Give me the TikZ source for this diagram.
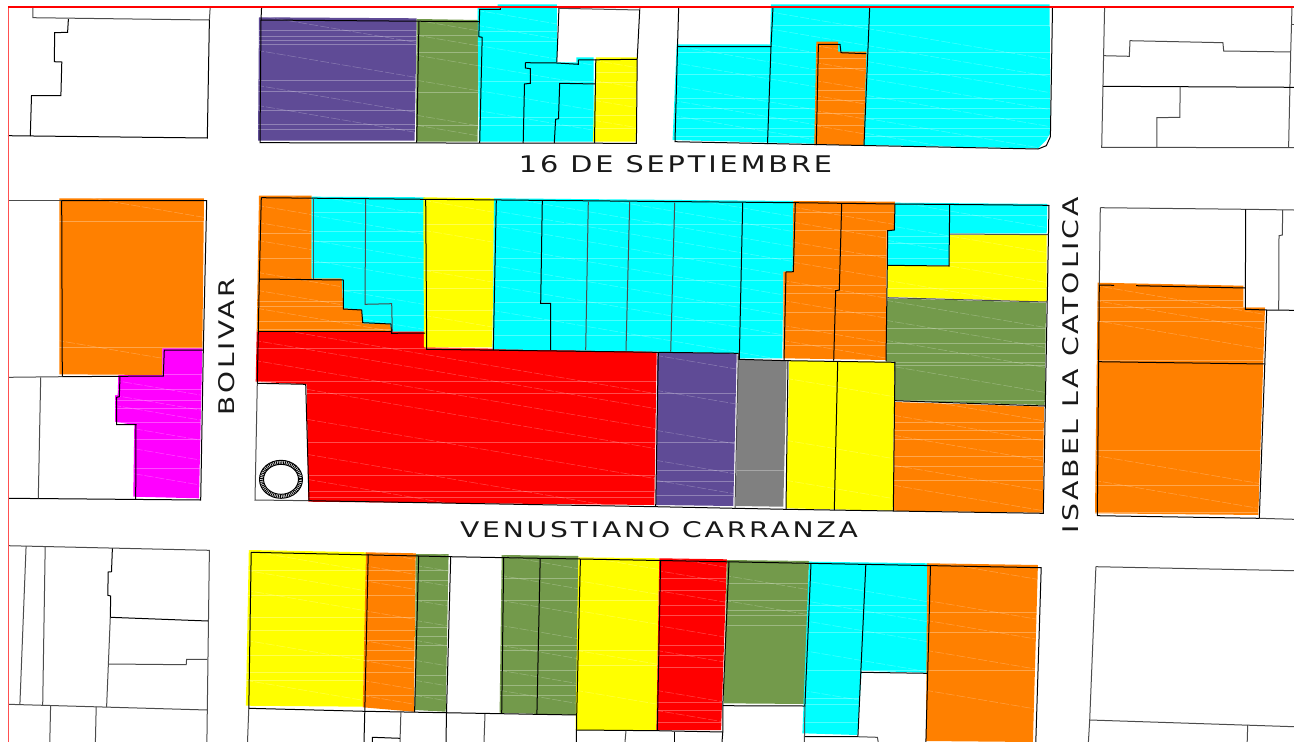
\documentclass[tikz,border=0pt]{standalone}
\usepackage{graphicx}
\usepackage{fontspec}
\newfontfamily\labfont[LetterSpace=10]{DejaVu Sans}
\definecolor{lotorange}{HTML}{FF8000}
\definecolor{lotcyan}{HTML}{00FFFF}
\definecolor{lotyellow}{HTML}{FFFF00}
\definecolor{lotred}{HTML}{FF0000}
\definecolor{lotmag}{HTML}{FF00FF}
\definecolor{lotpurple}{HTML}{5F4B96}
\definecolor{lotgreen}{HTML}{739A4B}
\definecolor{lotgray}{HTML}{808080}
\definecolor{framesoft}{HTML}{FF5050}
\definecolor{framered}{RGB}{255,0,0}
\tikzset{
  streak/.style={white,opacity=.3,line width=.7pt},
  slantstreak/.style={white,opacity=.28,line width=.5pt,dash pattern=on 9pt off 2pt},
  ln/.style={black,line width=1pt,line join=miter},
  lg/.style={black!70,line width=1pt},
  streetlabel/.style={inner sep=0pt,black!90}
}
% colour, outline, x from, x to, flat streak ys, slanted streak ys
\newcommand\lotfill[6]{%
  \begin{scope}
    \fill[#1] #2 -- cycle;
    \clip #2 -- cycle;
    \foreach \yy in {#5} {\draw[streak] (#3,\yy) -- (#4,\yy);}
    \foreach \yy in {#6} {\draw[slantstreak] (#3,\yy) -- (#4,{\yy+0.17*(#4-#3)});}
  \end{scope}}
\begin{document}
\begin{tikzpicture}[x=1pt,y=-1pt]
\useasboundingbox (0,0) rectangle (1294,742);
\fill[white] (0,0) rectangle (1294,742);
\begin{scope}
\clip (0,0) rectangle (1294,742);
% ---- top row
\lotfill{lotpurple}{(259,17.3)--(416.7,18.3)--(414.6,140.7)--(258,140.7)}{255}{420}{30,36,40,44,80,91,110,124,129}{15,50,85,105}
\lotfill{lotgreen}{(416.7,19)--(479,20)--(477.6,141.7)--(416,141.7)}{415}{480}{35,52,92,125}{20,35,55,80,115,125}
\lotfill{lotcyan}{(477.6,7.3)--(497.5,6.7)--(497.5,4.3)--(556.8,4.3)--(556.8,62.3)--(576.3,62.3)--(576.3,57.3)--(593.7,57.3)--(593.7,141.7)--(479,141.7)}{475}{597}{31,41,81,117,125}{10,25,45,65,90,110}
\lotfill{lotyellow}{(595.8,57.3)--(637.2,57.3)--(635.6,141.7)--(592.9,141.7)}{592}{640}{72,82,98,115,128}{60,80,100,120}
\lotfill{lotcyan}{(676.7,44.3)--(770,44.3)--(771,4.3)--(1049.6,4.3)--(1050.4,133)--(1046.3,140)--(1038,148.3)--(863.6,145)--(672.6,140)}{670}{1052}{25,52,74,98,108,118,128,136}{-5,12,28,45,62,85,100,115}
\lotfill{lotorange}{(816.3,41.7)--(838,41.7)--(838,51.7)--(866.4,51.7)--(863.6,145.7)--(814.3,144)}{812}{868}{58,68,90,100,113,125}{45,62,80,95,110,125}
% ---- middle left
\lotfill{lotorange}{(59.3,198.3)--(204,198.3)--(202.3,348.3)--(162.3,348.3)--(162.3,375)--(59.3,374.3)}{55}{206}{221,347}{192,340}
\lotfill{lotmag}{(118.3,375)--(162.3,375)--(162.3,348.3)--(202.3,348.3)--(199,498.3)--(133.3,496.7)--(134.3,425)--(115,421.7)--(115,395)--(117.7,395)}{112}{204}{374,389,400,408,422,439,468}{380,395,405,425,445,470}
% ---- central block
\lotfill{lotorange}{(259,195.7)--(311.7,195.7)--(311.7,278.3)--(341.7,278.3)--(343.3,308.3)--(361.7,309.3)--(362.7,323.3)--(390,324)--(391.7,331.7)--(256.7,331.7)}{255}{393}{233,258,301,306,321,329}{190,205,222,240,272,290,308}
\lotfill{lotcyan}{(311.7,196.7)--(425,197.3)--(425,331.7)--(391.7,331.7)--(390,324)--(362.7,323.3)--(361.7,309.3)--(343.3,308.3)--(341.7,278.3)--(311.7,278.3)}{310}{427}{212,231,241,262,290,315}{195,215,240,260,285,310}
\lotfill{lotred}{(256.7,331.7)--(425,331.7)--(425,347.3)--(656.7,351.7)--(654.3,505)--(308.3,501.7)--(306.7,384.3)--(255.7,381.7)}{252}{660}{348,381,393,442,475,491,497}{325,340,360,380,410,445,470}
\lotfill{lotyellow}{(423.3,197.3)--(494,198.3)--(492.3,347.3)--(424,347.3)}{422}{496}{224,270,288,310,330}{200,230,270,315}
\lotfill{lotcyan}{(494,198.3)--(793.3,201)--(792.7,271.7)--(783.3,271.7)--(782.3,358.3)--(738.3,358.3)--(738.3,353.3)--(656.7,351.7)--(492.7,349.3)}{490}{795}{224,258,280,302,320,335}{150,165,180,195,210,225,245,265,285,310}
\lotfill{lotorange}{(793.3,201)--(895,201.7)--(894.3,230)--(886.7,230.7)--(886,360)--(783.3,358.3)--(783.3,271.7)--(792.7,271.7)}{780}{897}{212,230,255,285,293,312,330,345}{205,220,240,260,280,300,325,340}
\lotfill{lotpurple}{(657.3,352.7)--(736.7,353.3)--(733.3,506)--(656,505)}{654}{739}{393,442,470,481,495}{355,390,430,460,480}
\lotfill{lotgray}{(738.3,360)--(786.7,360)--(783.3,506.7)--(735.7,506)}{734}{788}{470}{340}
\lotfill{lotyellow}{(789.3,360.7)--(894.3,362)--(892.7,510.7)--(786,508.3)}{784}{896}{600}{378,440,480}
\lotfill{lotcyan}{(895,202.7)--(1047.3,204)--(1046.7,233.3)--(949.3,233.3)--(949.3,265)--(887.3,265)--(887.3,230.7)--(895,230)}{885}{1049}{215,236,243,258}{200,225,240}
\lotfill{lotyellow}{(950,235)--(1046.7,235)--(1046.7,301.7)--(887.3,296.7)--(887.3,266)--(949,266)}{885}{1049}{262,288}{225,255,280}
\lotfill{lotgreen}{(887.3,298.3)--(1046,302.7)--(1044.7,405)--(895,400.7)--(894,361.7)--(886,361.7)}{884}{1048}{328,343,353,362,365,400}{300,320,340,365}
\lotfill{lotorange}{(894,402)--(1044,406.7)--(1042.7,512.7)--(893.3,510.7)}{892}{1046}{422,430,439,456,466,480}{395,415,435,465,485}
% ---- right block
\lotfill{lotorange}{(1097.7,282.7)--(1243.3,285.7)--(1243.3,307.3)--(1265,307.3)--(1258.3,515)--(1095,513.3)}{1092}{1267}{300,307,321,360,450,485,512}{285,300,320,455,480}
% ---- bottom row
\lotfill{lotyellow}{(248.8,550)--(366.9,552.3)--(362.8,706.7)--(245.9,705.7)}{244}{369}{570,595,617,630,655,672,680}{550,570,590,640,680}
\lotfill{lotorange}{(366,552.3)--(415.8,553.3)--(413.8,711.7)--(362.8,707.3)}{360}{418}{570,580,595,617,630,640,650,660,672,695}{550,565,580,610,640,660,680,695}
\lotfill{lotgreen}{(415.8,554)--(448.6,554)--(445.7,711.7)--(414.6,710)}{413}{450}{570,580,600,627,636,645,675,695}{550,565,580,600,620,640,660,680,695}
\lotfill{lotgreen}{(501.7,555)--(578.4,556)--(576.3,715)--(499.6,712.7)}{498}{580}{578,600,645,650,670,685,695}{555,575,600,625,645,670,690}
\lotfill{lotyellow}{(578.4,557.3)--(659.3,558.3)--(656.4,730.7)--(575.5,730)}{574}{661}{600,650,665}{555,580,610,650,690}
\lotfill{lotred}{(659.3,558.3)--(726.9,559.3)--(721.1,730)--(656.4,730)}{654}{729}{578,590,605,615,645,655,667,702,710,722}{555,570,590,625,650,690,710}
\lotfill{lotgreen}{(726.9,560)--(809,561)--(804.9,704)--(723.6,703.3)}{722}{811}{583,600,610,615,625}{550,575,600}
\lotfill{lotcyan}{(809,561.7)--(929.2,563.3)--(927.2,672.7)--(861.7,670.7)--(857.5,735)--(802.4,733.3)}{800}{931}{605,612,632,670,698,704,722}{580,600,620,650,690}
\lotfill{lotorange}{(927.2,563.3)--(1037.9,565)--(1032.9,742)--(925.9,741)}{924}{1040}{612,632,670}{560,600,620,650,690}
% ---- black outlines: top left block
\draw[lg] (32.8,7)--(32.8,17.7)--(209.4,20)--(210.2,7);
\draw[ln] (209.4,20)--(207.3,138)--(8,135.7);
\draw[ln] (68.4,19)--(67.6,32.3)--(54.7,32.7)--(54.3,61.7)--(61.8,62)--(60.9,95.7)--(31.5,95.7)--(30.3,136);
% top row
\draw[ln] (261.6,7)--(261,20)--(479,21.7);
\draw[ln] (261,20)--(260,142.7)--(636.4,143.3)--(637.2,59.3);
\draw[ln] (419,21)--(416.7,142.7);
\draw[ln] (500.4,6.7)--(500.4,9.3)--(479.7,9.3)--(478.8,36.7)--(482.2,37.3)--(479.7,143);
\draw[ln] (559,7)--(556.8,62.3);
\draw[lg] (559,8.3)--(639.7,10)--(640,7);
\draw[ln] (639.7,10)--(637.2,59.3);
\draw[ln] (525.3,62.7)--(556.8,63)--(578.4,64.3)--(578.4,60)--(637.2,59.3);
\draw[ln] (525.3,62.7)--(525.3,68)--(530.3,68.7)--(530.3,83.3)--(524.5,84)--(523.2,143);
\draw[ln] (595.8,84)--(559.7,83.3)--(558.5,118.7)--(555.6,119.3)--(554.3,143);
\draw[ln] (595.8,59.3)--(594.5,143);
\draw[ln] (678.7,6.7)--(677.5,46.7)--(771,46.7)--(773,7);
\draw[ln] (677.5,46.7)--(675,141.7)--(1038,149)--(1046.3,145.7)--(1050.4,136.7)--(1052.5,6.7);
\draw[ln] (771,46.7)--(767.5,144);
\draw[ln] (869.7,7)--(864,145);
\draw[ln] (816.3,145)--(818.4,44.3)--(840,44.3)--(841,52.7)--(866.4,53.7);
% top right block
\draw[lg] (1104.6,6.7)--(1101.7,147.3)--(1294,147.7);
\draw[lg] (1103.8,55.7)--(1129.3,56.3)--(1130,40.7)--(1222.9,42.7)--(1223.7,51)--(1290.7,52);
\draw[lg] (1292,7)--(1290.7,52)--(1288.6,147.3);
\draw[lg] (1292,24)--(1294,24);
\draw[ln] (1103,86.3)--(1294,87.3);
\draw[lg] (1180.2,86.7)--(1179.8,117.3)--(1156.8,117.7)--(1156.8,147.3);
% middle left
\draw[lg] (8.3,200.7)--(61.7,200.7);
\draw[ln] (61.7,200.7)--(206.7,200.7)--(203.3,350)--(200.7,500)--(8.3,498.3);
\draw[ln] (61.7,200.7)--(62.3,376.7);
\draw[lg] (8.3,377.3)--(62.3,376.7);
\draw[ln] (62.3,376.7)--(163.3,376)--(164.3,350)--(203.3,350);
\draw[ln] (120,376.7)--(119.3,396.7)--(116.7,397.3)--(116.7,424.7)--(136,424.7)--(135.7,499.3);
\draw[lg] (40.7,377.3)--(38.3,498.3);
% central block
\draw[lg] (257.3,383.3)--(255,500)--(309,500.7);
\draw[ln] (257.3,383.3)--(305.7,384.3)--(309,500.7)--(655.7,506.7)--(735,508.3)--(786,509.3)--(893.3,511)--(1043.3,513.3)--(1049,205.3);
\draw[ln] (261.3,197.7)--(425.7,199.3)--(795.3,202.7)--(895,204)--(1049,205.3);
\draw[ln] (261.3,197.7)--(259.3,279)--(258.3,331.7)--(257.3,383.3);
\draw[ln] (259.3,279)--(343.3,280)--(343.3,309)--(361.7,310)--(362.7,322.7)--(391,324)--(391.7,333.3)--(425,333);
\draw[ln] (258.3,331.7)--(391.7,331.7);
\draw[lg] (313.7,198.3)--(313.7,279);
\draw[lg] (365.7,199)--(365,304.3)--(391.7,303.7)--(392.3,331.7);
\draw[ln] (425.7,199.3)--(426.7,349.3)--(656.7,352.3)--(738.3,353.3)--(738.3,359.3)--(788,360.7)--(895,362.3);
\draw[ln] (496.3,200.3)--(493.3,350);
\draw[ln] (542.3,201)--(540.7,303.3)--(550.7,303.3)--(550.7,350);
\draw[lg] (588.3,201.7)--(585.7,350);
\draw[lg] (629.7,201.7)--(626,350.7);
\draw[lg] (674.7,202.7)--(670.7,351.7);
\draw[ln] (742.7,202.7)--(739.3,359.3);
\draw[ln] (795.3,202.7)--(793.3,271.7)--(786,272)--(784,360);
\draw[ln] (841.7,204)--(839.3,290)--(835.7,290.7)--(833.7,360.7);
\draw[ln] (895,204.3)--(894.3,230)--(887.7,230.7)--(887.3,265.3)--(886,361);
\draw[ln] (658.3,352.7)--(655.7,506.7);
\draw[lg] (738.3,353.3)--(735,508.3);
\draw[ln] (788,360.7)--(786,509.3);
\draw[ln] (837.7,361.7)--(834.3,510);
\draw[ln] (895,362.3)--(893.3,511);
\draw[ln] (949.7,204.3)--(949,266)--(887.3,265.3);
\draw[lg] (950,234)--(1048.3,234.7);
\draw[lg] (887.3,297.7)--(1047.3,302);
\draw[ln] (895,400.7)--(1045,406);
% right block
\draw[lg] (1100.3,207.7)--(1245.7,209.3)--(1294,210);
\draw[lg] (1100.3,207.7)--(1099.3,285);
\draw[ln] (1099.3,285)--(1114,285.3);
\draw[ln] (1136,285.7)--(1245,288);
\draw[ln] (1099.3,285)--(1097.3,515.7)--(1259.3,518.3);
\draw[lg] (1259.3,518.3)--(1294,519.3);
\draw[ln] (1245.7,209.3)--(1245.3,309.3)--(1266.7,310)--(1294,310.3);
\draw[ln] (1266.7,310)--(1259.3,518.3);
\draw[ln] (1098.7,361.7)--(1265,364);
\draw[lg] (1282.7,210)--(1282.3,235)--(1279,235.7)--(1278.7,310);
% bottom left block
\draw[lg] (8.3,545.7)--(209.4,550.3)--(207.3,710)--(8.3,704.3);
\draw[lg] (26.1,546)--(19.9,704.3);
\draw[lg] (45.2,546.7)--(42.7,705);
\draw[ln] (112.4,548.3)--(111.5,571.7)--(108.2,572)--(107.8,595.3)--(110.7,596)--(110.3,617.3)--(208.1,621);
\draw[lg] (110.3,617.3)--(106.6,707);
\draw[lg] (109,664)--(186.2,664.7)--(186.6,659.3)--(207.3,659.3);
\draw[lg] (50.6,705.7)--(49.8,742);
\draw[lg] (96.2,706.7)--(95.4,742);
\draw[lg] (207.3,710)--(206.9,742);
% bottom row
\draw[ln] (251.2,552.3)--(449.8,556.7)--(580.4,559)--(1041.2,567.7)--(1035.8,742);
\draw[ln] (251.2,552.3)--(248.8,708.3)--(364.8,711.3)--(501.7,713.7)--(576.7,715);
\draw[lg] (248.8,708.3)--(247.5,742);
\draw[ln] (368.2,554.3)--(364.8,711.3)--(364,742);
\draw[ln] (418.7,555.7)--(414.6,712);
\draw[ln] (450.7,556.7)--(446.5,712.7)--(446,742);
\draw[ln] (503.7,557.7)--(501.7,713.7);
\draw[ln] (540.2,558.3)--(536.9,714.3);
\draw[ln] (580.4,559)--(576.7,715)--(576.3,742);
\draw[lg] (400.9,712)--(400,742);
\draw[ln] (372.3,742)--(372.3,737.3)--(400,738.3);
\draw[lg] (485,714)--(484,742);
\draw[ln] (576.3,730)--(657.3,730.7)--(722.8,732);
\draw[lg] (626,730.7)--(625,742);
\draw[ln] (660.6,560.7)--(657.3,730.7);
\draw[ln] (674.3,731.7)--(674.3,742);
\draw[ln] (729,561.7)--(722.8,705.7)--(722.8,732)--(722,742);
\draw[ln] (811,563.3)--(804.9,706)--(722.8,705.7);
\draw[lg] (804.9,706)--(804.4,742);
\draw[ln] (865.8,565)--(860.8,672.3)--(927.2,673.3);
\draw[ln] (860.8,672.3)--(857.9,736.7)--(804.9,736.7);
\draw[lg] (857.9,736.7)--(877.4,737.3)--(878.2,742);
\draw[ln] (930.5,565.7)--(925.9,742);
% bottom right block
\draw[lg] (1095.9,566.7)--(1294,570.7);
\draw[lg] (1095.9,566.7)--(1089.7,720)--(1088.4,742);
\draw[lg] (1089.7,720)--(1294,726.7);
\draw[lg] (1247.7,725)--(1247.2,742);
% fountain
\draw[black,line width=1pt] (281,479.3) ellipse [x radius=21.5,y radius=19];
\draw[black,line width=1pt] (281,479.3) ellipse [x radius=17.5,y radius=15];
\draw[black,line width=3.2pt,dash pattern=on .9pt off .9pt] (281,479.3) ellipse [x radius=19.5,y radius=17];
\end{scope}
% red frame, over everything
\fill[framesoft] (7.7,742) rectangle (9,6.6);
\fill[framered] (7.7,6.2) rectangle (1294,7.9);
% street names
\node[streetlabel] (sept) at (675.5,164.5) {\resizebox{313pt}{17pt}{\labfont 16 DE SEPTIEMBRE}};
\node[streetlabel] (venu) at (659,530) {\resizebox{398pt}{16pt}{\labfont VENUSTIANO CARRANZA}};
\node[streetlabel,rotate=90] (boli) at (227,346.5) {\resizebox{137pt}{16pt}{\labfont BOLIVAR}};
\node[streetlabel,rotate=90] (isab) at (1070.5,365) {\resizebox{336pt}{16pt}{\labfont ISABEL LA CATOLICA}};
\end{tikzpicture}
\end{document}
